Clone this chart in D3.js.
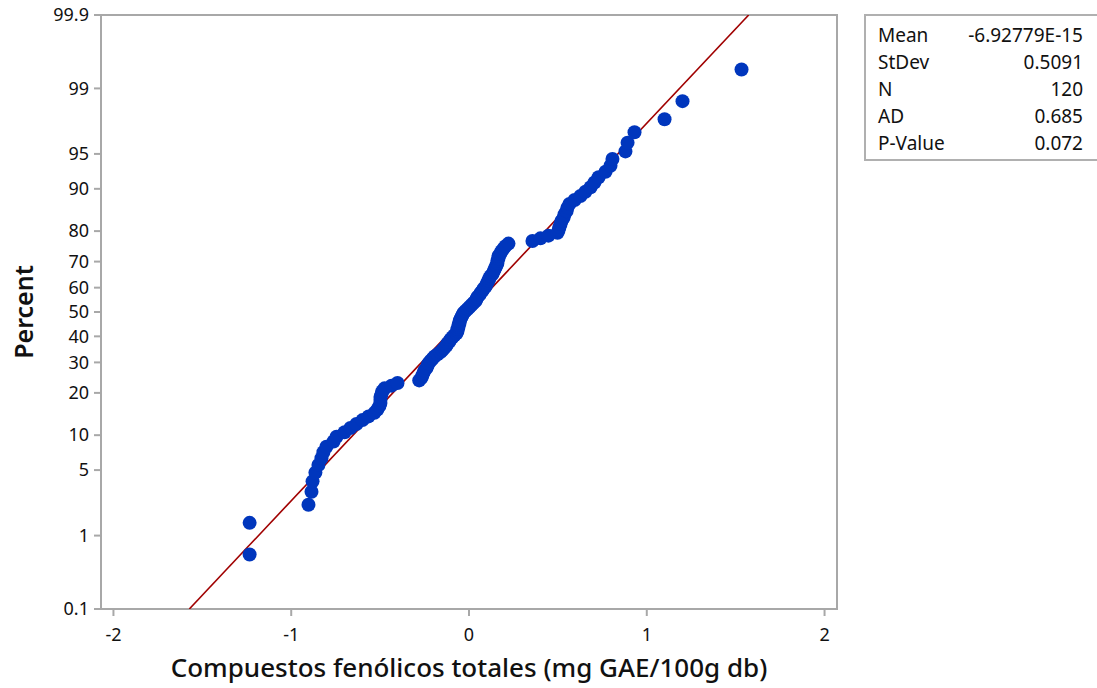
<!DOCTYPE html>
<html>
<head>
<meta charset="utf-8">
<script src="https://cdn.jsdelivr.net/npm/d3@7"></script>
<style>
  body { margin: 0; background: #fff; }
  text { font-family: "Noto Sans", "Open Sans", sans-serif; fill: #111; }
</style>
</head>
<body>
<div id="viz"></div>
<script>
var width = 1097,
    height = 688;

// sorted sample values
var values = [
  -1.234, -1.234, -0.903, -0.886, -0.880, -0.864, -0.847, -0.830, -0.819, -0.802,
  -0.762, -0.745, -0.700, -0.667, -0.633, -0.599, -0.565, -0.532, -0.515, -0.504,
  -0.498, -0.498, -0.498, -0.492, -0.487, -0.475, -0.436, -0.402, -0.280, -0.267,
  -0.262, -0.256, -0.250, -0.239, -0.233, -0.228, -0.217, -0.205, -0.194, -0.177,
  -0.160, -0.149, -0.138, -0.127, -0.121, -0.110, -0.104, -0.093, -0.082, -0.070,
  -0.065, -0.065, -0.059, -0.059, -0.053, -0.053, -0.048, -0.042, -0.037, -0.031,
  -0.020, -0.008, 0.003, 0.014, 0.025, 0.037, 0.042, 0.048, 0.059, 0.065,
  0.076, 0.082, 0.093, 0.098, 0.104, 0.110, 0.115, 0.121, 0.132, 0.138,
  0.143, 0.149, 0.155, 0.160, 0.160, 0.166, 0.166, 0.177, 0.183, 0.194,
  0.205, 0.222, 0.357, 0.402, 0.447, 0.498, 0.504, 0.509, 0.515, 0.520,
  0.532, 0.537, 0.549, 0.554, 0.565, 0.594, 0.627, 0.655, 0.684, 0.706,
  0.729, 0.768, 0.796, 0.807, 0.880, 0.892, 0.931, 1.100, 1.201, 1.533
];

var percentTicks = [0.1, 1, 5, 10, 20, 30, 40, 50, 60, 70, 80, 90, 95, 99, 99.9];
var xTicks = [-2, -1, 0, 1, 2];

var statLabels = ['Mean', 'StDev', 'N', 'AD', 'P-Value'];
var statValues = ['-6.92779E-15', '0.5091', '120', '0.685', '0.072'];
var mean = -6.92779e-15, sd = 0.5091;

// inverse normal cdf (Acklam)
function probit(p) {
  var a = [-39.69683028665376, 220.9460984245205, -275.9285104469687, 138.3577518672690, -30.66479806614716, 2.506628277459239],
      b = [-54.47609879822406, 161.5858368580409, -155.6989798598866, 66.80131188771972, -13.28068155288572],
      c = [-0.007784894002430293, -0.3223964580411365, -2.400758277161838, -2.549732539343734, 4.374664141464968, 2.938163982698783],
      d = [0.007784695709041462, 0.3224671290700398, 2.445134137142996, 3.754408661907416];
  var q, r;
  if (p < 0.02425) {
    q = Math.sqrt(-2 * Math.log(p));
    return (((((c[0]*q+c[1])*q+c[2])*q+c[3])*q+c[4])*q+c[5]) / ((((d[0]*q+d[1])*q+d[2])*q+d[3])*q+1);
  } else if (p > 1 - 0.02425) {
    q = Math.sqrt(-2 * Math.log(1 - p));
    return -(((((c[0]*q+c[1])*q+c[2])*q+c[3])*q+c[4])*q+c[5]) / ((((d[0]*q+d[1])*q+d[2])*q+d[3])*q+1);
  }
  q = p - 0.5; r = q * q;
  return (((((a[0]*r+a[1])*r+a[2])*r+a[3])*r+a[4])*r+a[5])*q / (((((b[0]*r+b[1])*r+b[2])*r+b[3])*r+b[4])*r+1);
}

var plotLeft = 101, plotRight = 837, plotTop = 15, plotBottom = 609;

var x = d3.scaleLinear().domain([-2.07, 2.07]).range([plotLeft, plotRight]);
var zScale = d3.scaleLinear().domain([probit(0.001), probit(0.999)]).range([plotBottom, plotTop]);
function y(pct) { return zScale(probit(pct / 100)); }

var svg = d3.select('#viz')
  .append('svg')
  .attr('width', width)
  .attr('height', height);

var defs = svg.append('defs');
defs.append('clipPath')
  .attr('id', 'plotclip')
  .append('rect')
  .attr('x', plotLeft).attr('y', plotTop)
  .attr('width', plotRight - plotLeft).attr('height', plotBottom - plotTop);

// frame
svg.append('rect')
  .attr('x', plotLeft).attr('y', plotTop)
  .attr('width', plotRight - plotLeft).attr('height', plotBottom - plotTop)
  .attr('fill', 'none')
  .attr('stroke', '#a8a8a8')
  .attr('stroke-width', 2);

// y axis
var yAxis = svg.append('g');
yAxis.selectAll('line')
  .data(percentTicks)
  .enter().append('line')
  .attr('x1', plotLeft - 7).attr('x2', plotLeft)
  .attr('y1', function(d) { return y(d); })
  .attr('y2', function(d) { return y(d); })
  .attr('stroke', '#a8a8a8')
  .attr('stroke-width', 2);
yAxis.selectAll('text')
  .data(percentTicks)
  .enter().append('text')
  .attr('x', plotLeft - 12)
  .attr('y', function(d) { return y(d); })
  .attr('dy', '0.35em')
  .attr('text-anchor', 'end')
  .style('font-size', '18px')
  .text(function(d) { return d; });

// x axis
var xAxis = svg.append('g');
xAxis.selectAll('line')
  .data(xTicks)
  .enter().append('line')
  .attr('x1', function(d) { return x(d); })
  .attr('x2', function(d) { return x(d); })
  .attr('y1', plotBottom).attr('y2', plotBottom + 7)
  .attr('stroke', '#a8a8a8')
  .attr('stroke-width', 2);
xAxis.selectAll('text')
  .data(xTicks)
  .enter().append('text')
  .attr('x', function(d) { return x(d); })
  .attr('y', plotBottom + 32)
  .attr('text-anchor', 'middle')
  .style('font-size', '18px')
  .text(function(d) { return d < 0 ? '-' + Math.abs(d) : d; });

// axis titles
svg.append('text')
  .attr('transform', 'translate(33,' + y(50) + ') rotate(-90)')
  .attr('text-anchor', 'middle')
  .style('font-size', '25px')
  .style('font-weight', '600')
  .text('Percent');

svg.append('text')
  .attr('x', (plotLeft + plotRight) / 2)
  .attr('y', 677)
  .attr('text-anchor', 'middle')
  .style('font-size', '26px')
  .style('font-weight', '500')
  .text('Compuestos fenólicos totales (mg GAE/100g db)');

// fitted line
var plot = svg.append('g').attr('clip-path', 'url(#plotclip)');
var fitPct = [0.1, 99.9];
plot.append('line')
  .attr('x1', x(mean + sd * probit(fitPct[0] / 100)))
  .attr('y1', y(fitPct[0]))
  .attr('x2', x(mean + sd * probit(fitPct[1] / 100)))
  .attr('y2', y(fitPct[1]))
  .attr('stroke', '#a00000')
  .attr('stroke-width', 1.6);

// points at median-rank plotting positions
var n = values.length;
plot.selectAll('circle')
  .data(values)
  .enter().append('circle')
  .attr('cx', function(d) { return x(d); })
  .attr('cy', function(d, i) { return y((i + 1 - 0.3) / (n + 0.4) * 100); })
  .attr('r', 7)
  .style('fill', '#0036bd');

// stats box
var box = svg.append('g');
box.append('rect')
  .attr('x', 865).attr('y', 15)
  .attr('width', 240).attr('height', 145)
  .attr('fill', '#fff')
  .attr('stroke', '#b0b0b0')
  .attr('stroke-width', 2);
box.selectAll('text.lab')
  .data(statLabels)
  .enter().append('text')
  .attr('class', 'lab')
  .attr('x', 878)
  .attr('y', function(d, i) { return 42 + i * 27; })
  .style('font-size', '19px')
  .text(function(d) { return d; });
box.selectAll('text.val')
  .data(statValues)
  .enter().append('text')
  .attr('class', 'val')
  .attr('x', 1083)
  .attr('y', function(d, i) { return 42 + i * 27; })
  .attr('text-anchor', 'end')
  .style('font-size', '19px')
  .text(function(d) { return d; });
</script>
</body>
</html>
